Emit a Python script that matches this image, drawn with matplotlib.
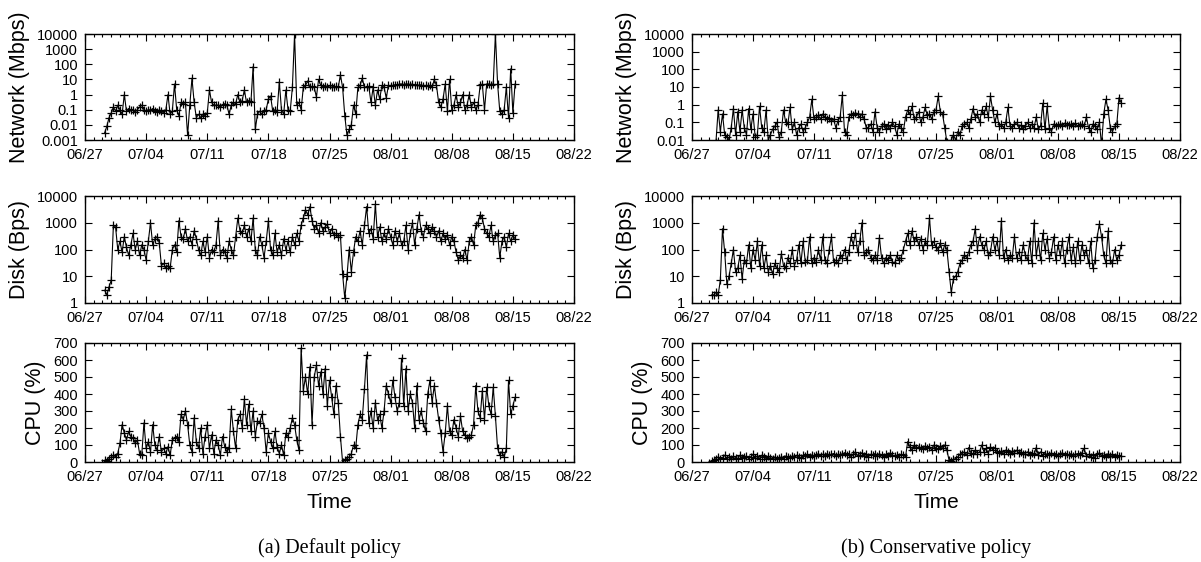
import numpy as np
import pandas as pd
import matplotlib
matplotlib.use('Agg')
import matplotlib.pyplot as plt
import matplotlib.dates as mdates
from matplotlib.ticker import FixedLocator, FuncFormatter, LogLocator, NullFormatter

plt.rcParams['font.family'] = ['Liberation Sans', 'DejaVu Sans']

# samples every 6 hours, 06/29 06:00 .. 08/15 06:00
times = pd.date_range('2010-06-29 06:00', periods=189, freq='6h')

# ---- (a) default policy ----
net_default = [
    0.003, 0.008, 0.03, 0.06,   0.15, 0.08, 0.2, 0.1,      0.05, 1.0, 0.08, 0.12,
    0.09, 0.1, 0.07, 0.1,       0.15, 0.2, 0.1, 0.08,      0.1, 0.09, 0.12, 0.08,
    0.07, 0.1, 0.08, 0.06,      0.09, 1.0, 0.05, 0.08,     5.0, 0.1, 0.04, 0.3,
    0.25, 0.3, 0.002, 0.2,      12, 0.3, 0.03, 0.05,       0.03, 0.05, 0.04, 0.06,
    2.0, 0.3, 0.2, 0.2,         0.2, 0.15, 0.2, 0.25,      0.2, 0.05, 0.2, 0.3,
    0.25, 1.0, 0.3, 0.4,        2.0, 0.3, 0.4, 0.3,        70, 0.005, 0.05, 0.08,
    0.05, 0.08, 0.1, 0.5,       0.8, 0.08, 0.1, 0.07,      7, 0.1, 0.05, 2.0,
    0.1, 0.08, 3.0, 10000,      0.2, 0.3, 0.1, 3.0,        4, 8, 3, 3.5,
    3, 0.7, 10, 4,              3, 3.5, 3, 4,              3, 3, 3.5, 3,
    20, 3, 0.04, 0.002,         0.005, 0.01, 0.2, 0.05,    3, 4, 12, 3,
    3, 3.5, 0.3, 3,             0.2, 2, 0.5, 4,            3, 0.6, 4, 3.5,
    4, 4.5, 4, 5,               5, 4.5, 5, 5,              4.5, 5, 4, 4.5,
    4, 4.5, 3.5, 4,             3.5, 4, 3, 10,             4, 0.3, 0.15, 0.5,
    5, 0.08, 10, 0.1,           0.2, 1, 0.15, 0.3,         1, 0.1, 0.2, 1,
    0.15, 0.3, 0.1, 0.2,        4, 5, 0.1, 5,              5, 4.5, 5, 10000,
    5, 0.08, 0.05, 0.1,         3, 0.03, 50, 0.06,         5,
]
disk_default = [
    3, 2, 4, 7,                 800, 700, 100, 200,        80, 300, 120, 60,
    150, 400, 100, 200,         60, 150, 100, 40,          200, 1000, 150, 250,
    300, 180, 25, 30,           20, 25, 20, 100,           150, 80, 1200, 300,
    250, 600, 200, 300,         150, 500, 250, 100,        60, 200, 80, 300,
    50, 100, 80, 150,           1200, 60, 100, 80,         50, 200, 100, 60,
    300, 1500, 500, 400,        800, 300, 600, 200,        1500, 100, 60, 300,
    150, 50, 200, 1200,         100, 60, 400, 80,          150, 60, 250, 100,
    200, 80, 300, 150,          400, 200, 800, 1500,       3000, 2000, 4000, 1200,
    600, 800, 400, 1000,        500, 700, 900, 400,        600, 350, 400, 300,
    350, 12, 1.5, 10,           100, 15, 80, 300,          200, 500, 150, 800,
    4000, 400, 600, 250,        5000, 300, 700, 200,       400, 250, 600, 300,
    150, 500, 200, 400,         150, 200, 800, 100,        400, 1000, 150, 600,
    2000, 500, 300, 800,        600, 400, 700, 500,        300, 500, 200, 400,
    250, 350, 150, 300,         200, 80, 40, 60,           50, 100, 40, 200,
    300, 150, 800, 1000,        2000, 1500, 600, 400,      300, 800, 200, 350,
    400, 50, 200, 300,          120, 400, 200, 350,        250,
]
cpu_default = [
    10, 5, 20, 30,              40, 30, 50, 110,           220, 170, 130, 180,
    150, 140, 110, 130,         50, 40, 230, 80,           120, 60, 220, 100,
    70, 150, 60, 80,            50, 90, 40, 130,           140, 150, 120, 280,
    250, 300, 220, 100,         60, 260, 120, 80,          200, 50, 150, 220,
    80, 160, 50, 130,           100, 40, 150, 90,          60, 80, 310, 180,
    80, 250, 280, 200,          370, 220, 340, 180,        300, 150, 240, 230,
    280, 200, 60, 170,          120, 80, 180, 90,          50, 100, 40, 170,
    150, 200, 260, 220,         130, 70, 670, 420,         500, 400, 560, 220,
    500, 570, 450, 530,         400, 550, 330, 480,        380, 280, 450, 350,
    150, 0, 10, 20,             30, 50, 100, 80,           220, 280, 250, 430,
    630, 230, 300, 200,         350, 250, 280, 200,        300, 450, 400, 350,
    480, 380, 300, 350,         610, 330, 550, 300,        400, 350, 200, 450,
    250, 300, 230, 180,         400, 480, 350, 450,        350, 250, 170, 60,
    170, 330, 180, 160,         250, 200, 150, 270,        180, 160, 140, 150,
    160, 220, 450, 300,         260, 420, 250, 440,        330, 280, 440, 270,
    80, 40, 60, 30,             80, 480, 280, 330,         380,
]

# ---- (b) conservative policy ----
net_cons = [
    0.005, 0.005, 0.008, 0.5,   0.03, 0.3, 0.02, 0.015,    0.01, 0.05, 0.6, 0.02,
    0.4, 0.03, 0.5, 0.05,       0.02, 0.6, 0.04, 0.3,      0.015, 0.02, 0.8, 0.05,
    0.03, 0.5, 0.01, 0.02,      0.04, 0.06, 0.1, 0.015,    0.03, 0.5, 0.1, 0.08,
    0.7, 0.04, 0.1, 0.02,       0.05, 0.08, 0.03, 0.05,    0.1, 0.2, 2.0, 0.15,
    0.2, 0.25, 0.15, 0.3,       0.2, 0.15, 0.18, 0.12,     0.15, 0.05, 0.12, 0.2,
    3.5, 0.03, 0.02, 0.2,       0.3, 0.25, 0.35, 0.3,      0.2, 0.3, 0.15, 0.05,
    0.05, 0.08, 0.03, 0.4,      0.05, 0.03, 0.06, 0.08,    0.04, 0.07, 0.05, 0.1,
    0.06, 0.02, 0.08, 0.05,     0.03, 0.2, 0.5, 0.3,       0.8, 0.15, 0.2, 0.4,
    0.1, 0.2, 0.7, 0.25,        0.3, 0.15, 0.4, 0.5,       3.0, 0.4, 0.3, 0.05,
    0.008, 0.005, 0.01, 0.02,   0.01, 0.03, 0.02, 0.06,    0.08, 0.1, 0.05, 0.15,
    0.6, 0.2, 0.3, 0.1,         0.5, 0.3, 0.8, 0.2,        3.0, 0.5, 0.1, 0.3,
    0.06, 0.08, 0.05, 0.1,      0.7, 0.06, 0.05, 0.08,     0.1, 0.05, 0.07, 0.04,
    0.06, 0.1, 0.05, 0.08,      0.05, 0.2, 0.04, 0.06,     1.2, 0.04, 0.8, 0.05,
    0.03, 0.08, 0.06, 0.07,     0.08, 0.06, 0.09, 0.07,    0.07, 0.08, 0.06, 0.09,
    0.06, 0.07, 0.08, 0.06,     0.2, 0.05, 0.03, 0.08,     0.06, 0.04, 0.1, 0.005,
    0.3, 2.0, 0.5, 0.05,        0.03, 0.06, 0.08, 2.5,     1.3,
]
disk_cons = [
    2, 2, 2.5, 2,               7, 600, 80, 5,             10, 30, 100, 15,
    20, 60, 8, 40,              30, 150, 20, 100,          40, 200, 25, 150,
    20, 60, 15, 25,             12, 30, 20, 15,            70, 25, 20, 50,
    30, 100, 25, 40,            150, 30, 200, 35,          40, 300, 30, 50,
    35, 100, 40, 300,           40, 30, 100, 300,          35, 40, 30, 60,
    50, 100, 40, 80,            300, 150, 400, 80,         200, 1000, 60, 80,
    100, 50, 40, 60,            40, 280, 50, 30,           50, 40, 60, 35,
    30, 60, 40, 50,             100, 200, 400, 150,        500, 200, 300, 150,
    250, 100, 200, 150,         1500, 150, 200, 120,       100, 180, 80, 150,
    100, 15, 2.5, 8,            10, 15, 30, 40,            60, 50, 80, 150,
    200, 600, 100, 300,         150, 100, 200, 60,         80, 300, 100, 200,
    60, 1200, 50, 100,          40, 60, 50, 300,           50, 80, 40, 150,
    60, 40, 200, 30,            1000, 60, 200, 40,         400, 100, 250, 50,
    80, 300, 40, 150,           60, 200, 30, 100,          300, 40, 120, 30,
    200, 40, 150, 60,           100, 30, 200, 20,          40, 300, 900, 300,
    60, 30, 500, 40,            30, 100, 40, 60,           150,
]
cpu_cons = [
    5, 10, 20, 30,              15, 25, 40, 20,            30, 15, 35, 25,
    20, 40, 25, 30,             35, 20, 30, 45,            25, 35, 20, 40,
    30, 20, 35, 25,             15, 30, 20, 25,            30, 20, 35, 30,
    25, 35, 30, 40,             30, 25, 40, 35,            45, 30, 40, 35,
    40, 50, 35, 45,             35, 50, 40, 45,            50, 35, 45, 40,
    45, 55, 40, 50,             30, 45, 60, 35,            40, 55, 35, 45,
    30, 45, 40, 50,             35, 50, 40, 30,            45, 35, 55, 40,
    35, 40, 30, 45,             40, 30, 120, 90,           70, 100, 80, 90,
    85, 75, 95, 80,             90, 70, 100, 80,           75, 95, 80, 100,
    70, 10, 5, 15,              20, 30, 45, 50,            60, 40, 85, 55,
    45, 70, 50, 60,             100, 60, 80, 50,           90, 70, 85, 60,
    55, 65, 50, 70,             60, 50, 65, 55,            70, 55, 60, 45,
    50, 60, 40, 55,             45, 85, 40, 60,            35, 50, 45, 40,
    55, 40, 50, 35,             45, 55, 40, 50,            40, 50, 35, 45,
    50, 40, 55, 80,             35, 45, 30, 40,            25, 45, 55, 35,
    40, 30, 50, 35,             45, 30, 40, 35,            35,
]

xticks = pd.date_range('2010-06-27', '2010-08-22', freq='7D')
xmin, xmax = pd.Timestamp('2010-06-27'), pd.Timestamp('2010-08-22')

W, H = 1201, 562
fig = plt.figure(figsize=(W / 100, H / 100), dpi=100)


def px_axes(x0, y0, x1, y1):
    return fig.add_axes([x0 / W, 1 - y1 / H, (x1 - x0) / W, (y1 - y0) / H])


def style(ax, log, yt):
    ax.set_xlim(xmin, xmax)
    ax.xaxis.set_major_locator(FixedLocator(mdates.date2num(xticks)))
    ax.xaxis.set_minor_locator(mdates.DayLocator())
    ax.xaxis.set_major_formatter(mdates.DateFormatter('%m/%d'))
    if log:
        ax.set_yscale('log')
    ax.set_ylim(yt[0], yt[-1])
    ax.yaxis.set_major_locator(FixedLocator(yt))
    ax.yaxis.set_major_formatter(FuncFormatter(lambda v, p: '%g' % v))
    if log:
        ax.yaxis.set_minor_locator(LogLocator(base=10, subs=np.arange(2, 10)))
        ax.yaxis.set_minor_formatter(NullFormatter())
    else:
        ax.yaxis.set_minor_locator(FixedLocator([]))
    ax.tick_params(which='both', direction='in', top=True, right=True,
                   labelsize=10.5, width=0.8)
    ax.tick_params(which='major', length=5)
    ax.tick_params(axis='x', which='major', pad=6)
    ax.tick_params(axis='y', which='major', pad=5)
    ax.tick_params(which='minor', length=2.5)
    for s in ax.spines.values():
        s.set_linewidth(1.0)


def draw(ax, y):
    ax.plot(times, y, color='black', lw=0.8, marker='+', ms=6, mew=0.9)


net_ticks_a = [0.001, 0.01, 0.1, 1, 10, 100, 1000, 10000]
net_ticks_b = [0.01, 0.1, 1, 10, 100, 1000, 10000]
disk_ticks = [1, 10, 100, 1000, 10000]
cpu_ticks = [0, 100, 200, 300, 400, 500, 600, 700]

columns = [
    (85, 574, net_default, disk_default, cpu_default, net_ticks_a, '(a) Default policy'),
    (692, 1180, net_cons, disk_cons, cpu_cons, net_ticks_b, '(b) Conservative policy'),
]

for x0, x1, net, disk, cpu, nt, cap in columns:
    ax = px_axes(x0, 34, x1, 140)
    draw(ax, net)
    style(ax, True, nt)
    ax.set_ylabel('Network (Mbps)', fontsize=15.5, labelpad=5)

    ax = px_axes(x0, 196, x1, 303)
    draw(ax, disk)
    style(ax, True, disk_ticks)
    ax.set_ylabel('Disk (Bps)', fontsize=15.5, labelpad=5)

    ax = px_axes(x0, 343, x1, 462)
    draw(ax, cpu)
    style(ax, False, cpu_ticks)
    ax.set_ylabel('CPU (%)', fontsize=15.5, labelpad=5)
    ax.set_xlabel('Time', fontsize=15, labelpad=6)

    fig.text((x0 + x1) / 2 / W, 1 - 548 / H, cap, ha='center', va='center',
             fontsize=14.5, family=['Liberation Serif', 'DejaVu Serif'])

fig.savefig('out.png', dpi=100)
